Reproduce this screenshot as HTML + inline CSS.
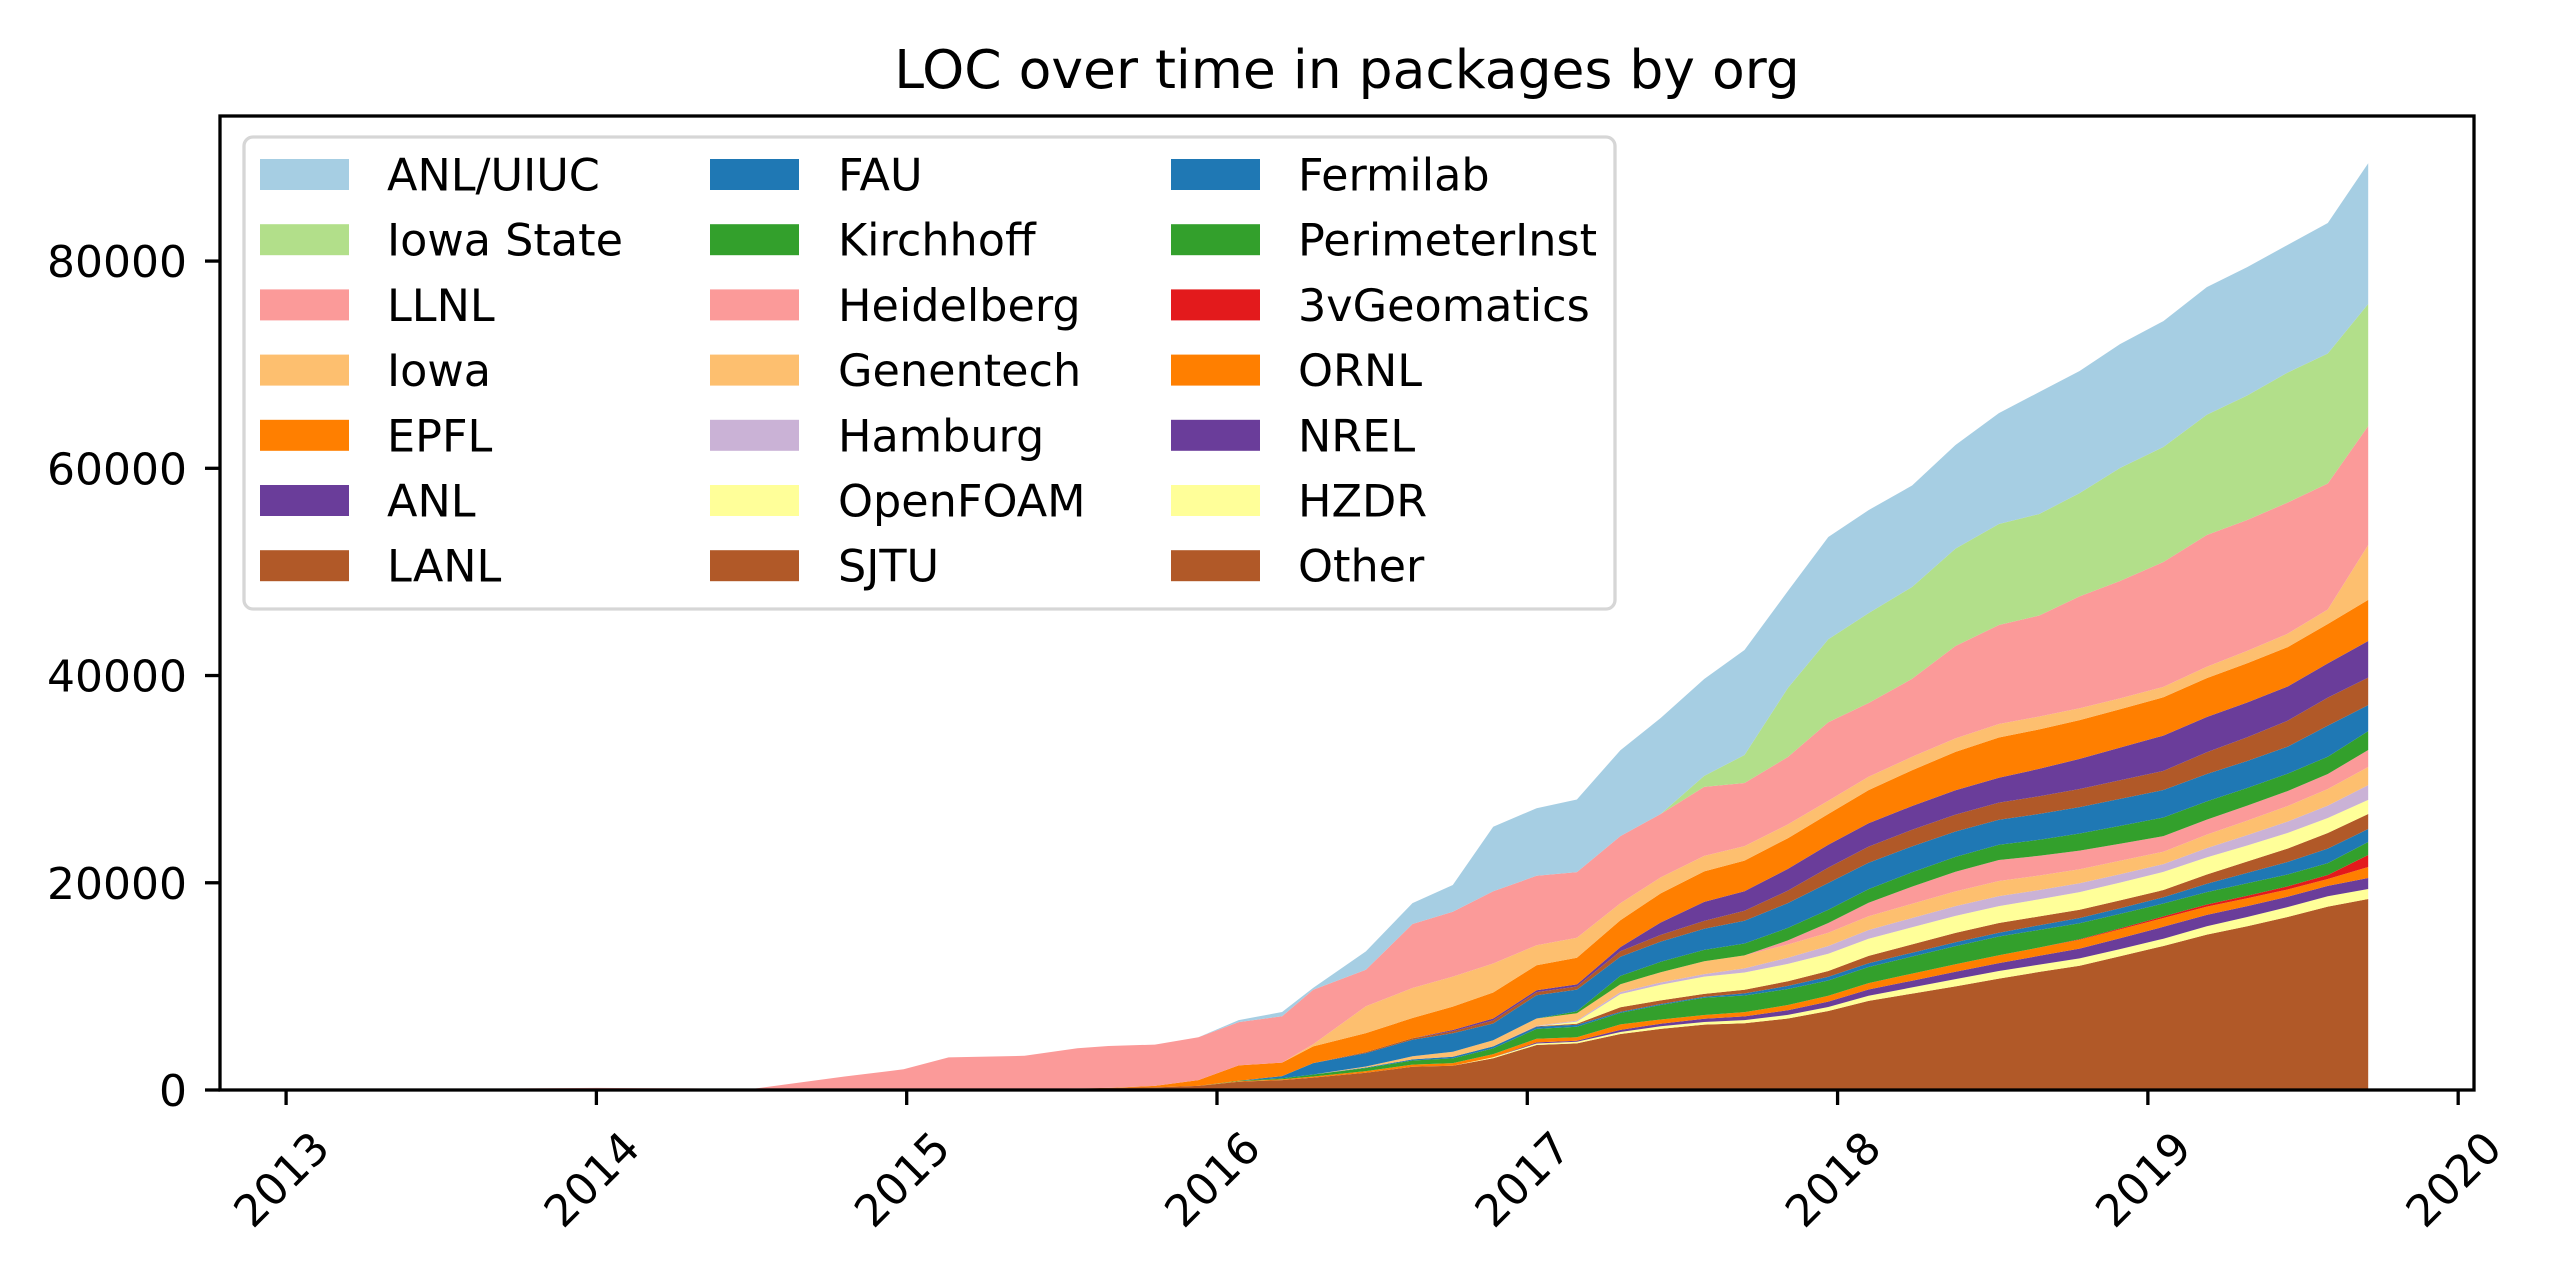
<!DOCTYPE html>
<html>
<head>
<meta charset="utf-8">
<style>
  html, body { margin: 0; padding: 0; background: #ffffff; }
  svg { display: block; font-family: "DejaVu Sans", "Liberation Sans", sans-serif; }
</style>
</head>
<body>
<svg id="chart" xmlns="http://www.w3.org/2000/svg" width="2560" height="1280" viewBox="0 0 2560 1280">
  <rect x="0" y="0" width="2560" height="1280" fill="#ffffff"/>
  <text x="1347" y="88" text-anchor="middle" font-size="53.5" fill="#000">LOC over time in packages by org</text>
  <g id="areas"></g>
  <g id="axes"></g>
  <g id="legend"></g>
</svg>
<script>
// ---- data ----
const times = [2013.0, 2014.0, 2014.3, 2014.5, 2014.65, 2014.8, 2014.99, 2015.135, 2015.38, 2015.55, 2015.65, 2015.8, 2015.94, 2016.07, 2016.21, 2016.31, 2016.48, 2016.63, 2016.76, 2016.89, 2017.03, 2017.16, 2017.30, 2017.43, 2017.57, 2017.70, 2017.84, 2017.97, 2018.10, 2018.24, 2018.38, 2018.52, 2018.65, 2018.78, 2018.91, 2019.05, 2019.19, 2019.32, 2019.45, 2019.58, 2019.71];

const other = [0,0,0,0,0,0,0,0,100,150,200,250,400,800,960,1200,1670,2250,2350,3060,4340,4500,5400,5900,6310,6450,6900,7620,8600,9300,10000,10750,11400,12000,12900,13900,15000,15800,16700,17700,18430];
const hzdr = [0,0,0,0,0,0,0,0,0,0,0,0,0,0,0,0,0,0,0,100,150,150,200,250,250,300,350,390,500,600,700,730,700,700,700,700,800,900,950,1000,970];
const nrel = [0,0,0,0,0,0,0,0,0,0,0,0,0,0,0,0,0,0,0,0,100,100,200,250,310,350,450,520,600,650,720,770,850,950,1050,1150,1100,1050,1000,1000,1060];
const ornl = [0,0,0,0,0,0,0,0,0,0,0,0,0,50,80,100,150,200,250,300,350,350,530,400,370,420,500,560,620,680,720,750,800,850,850,850,800,750,700,660,1060];
const geomatics3v = [0,0,0,0,0,0,0,0,0,0,0,0,0,0,0,0,0,0,0,0,0,0,0,0,0,0,0,0,0,0,0,0,0,50,100,150,200,250,300,390,1160];
const perimeter = [0,0,0,0,0,0,0,0,0,0,0,0,0,50,100,200,300,400,450,550,960,1000,1110,1400,1660,1600,1550,1480,1550,1650,1750,1810,1700,1550,1400,1250,1200,1200,1150,1150,1250];
const fermilab = [0,0,0,0,0,0,0,0,0,0,0,0,0,0,0,0,50,100,150,200,200,200,100,100,100,200,300,360,370,370,370,370,450,500,550,600,800,1000,1200,1400,1260];
const sjtu = [0,0,0,0,0,0,0,0,0,0,0,0,0,0,0,0,0,0,0,0,50,100,450,350,270,350,450,550,700,800,900,940,850,800,750,700,900,1100,1300,1500,1450];
const openfoam = [0,0,0,0,0,0,0,0,0,0,0,0,0,0,0,0,0,0,0,0,0,200,1270,1500,1670,1670,1670,1670,1650,1650,1640,1630,1650,1700,1720,1750,1650,1550,1500,1450,1360];
const hamburg = [0,0,0,0,0,0,0,0,0,0,0,0,0,0,0,0,0,0,0,0,50,100,190,220,250,400,600,750,850,900,950,960,900,850,800,750,900,1000,1100,1200,1430];
const genentech = [0,0,0,0,0,0,0,0,0,0,0,0,0,0,0,0,100,300,500,600,700,700,760,1000,1230,1250,1270,1280,1330,1380,1420,1460,1400,1350,1300,1200,1300,1400,1500,1600,1740];
const heidelberg = [0,0,0,0,0,0,0,0,0,0,0,0,0,0,0,0,0,0,0,0,0,0,0,0,0,0,400,940,1300,1650,1900,2030,1900,1800,1650,1500,1450,1450,1450,1450,1640];
const kirchhoff = [0,0,0,0,0,0,0,0,0,0,0,0,0,0,0,0,0,0,0,0,0,200,800,1000,1100,1150,1200,1280,1320,1380,1430,1470,1550,1650,1720,1800,1750,1700,1680,1670,1830];
const fau = [0,0,0,0,0,0,0,0,0,0,0,0,0,0,200,1100,1290,1600,1770,1610,2250,2090,1850,1950,2040,2200,2400,2580,2550,2500,2450,2410,2500,2550,2600,2650,2650,2600,2600,3000,2510];
const lanl = [0,0,0,0,0,0,0,0,0,0,0,0,0,0,0,0,100,150,200,300,300,300,540,650,760,950,1200,1480,1550,1600,1630,1660,1700,1750,1800,1850,2100,2300,2500,2700,2650];
const anl = [0,0,0,0,0,0,0,0,0,0,0,0,0,0,0,0,0,0,120,180,180,200,390,1200,1830,1900,2100,2210,2250,2300,2350,2400,2650,2900,3150,3400,3400,3350,3300,3300,3530];
const epfl = [0,0,0,0,0,0,0,0,0,0,0,150,560,1470,1300,1610,1830,1950,2260,2510,2410,2570,2600,2800,2950,2950,2960,2970,3200,3450,3700,3880,3800,3750,3700,3700,3750,3780,3800,3800,3970];
const iowa = [0,0,0,0,0,0,0,0,0,0,0,0,0,0,0,200,2590,2890,2890,2800,1930,1930,1640,1550,1490,1400,1330,1280,1290,1300,1300,1300,1250,1150,1050,1000,1100,1200,1300,1400,5300];
const llnl = [0,200,150,100,700,1300,2000,3150,3200,3870,4050,3980,4130,4180,4470,5270,3520,6180,6270,6970,6700,6340,6470,6120,6660,6090,6510,7580,7120,7520,8920,9560,9740,10790,11330,12060,12710,12630,12660,12160,11480];
const iowaState = [0,0,0,0,0,0,0,0,0,0,0,0,0,0,0,0,0,0,0,0,0,0,0,0,1060,2700,6660,8000,8680,8860,9400,9740,9800,9970,10910,11100,11610,12020,12550,12550,11780];
const anlUiuc = [0,0,0,0,0,0,0,0,0,0,0,0,0,200,420,170,1780,2020,2570,6220,6530,7010,8290,9260,9360,10130,9360,9870,9940,9800,10000,10710,11770,11780,11960,12150,12320,12390,12310,12590,13580];

// series names bottom -> top
const seriesNames = ["Other","HZDR","NREL","ORNL","3vGeomatics","PerimeterInst","Fermilab","SJTU","OpenFOAM","Hamburg","Genentech","Heidelberg","Kirchhoff","FAU","LANL","ANL","EPFL","Iowa","LLNL","Iowa State","ANL/UIUC"];
const seriesValues = [other,hzdr,nrel,ornl,geomatics3v,perimeter,fermilab,sjtu,openfoam,hamburg,genentech,heidelberg,kirchhoff,fau,lanl,anl,epfl,iowa,llnl,iowaState,anlUiuc];
const seriesColors = ["#b15928","#ffff99","#6a3d9a","#ff7f00","#e31a1c","#33a02c","#1f78b4","#b15928","#ffff99","#cab2d6","#fdbf6f","#fb9a99","#33a02c","#1f78b4","#b15928","#6a3d9a","#ff7f00","#fdbf6f","#fb9a99","#b2df8a","#a6cee3"];

const yTicks = [0, 20000, 40000, 60000, 80000];
const yTickLabels = ["0","20000","40000","60000","80000"];
const xTicks = [2013, 2014, 2015, 2016, 2017, 2018, 2019, 2020];
const xTickLabels = ["2013","2014","2015","2016","2017","2018","2019","2020"];

// ---- layout ----
const AX = {left: 220, right: 2474, top: 116, bottom: 1090};
const X_MIN = 2012.787, X_MAX = 2020.051;
const Y_MIN = 0, Y_MAX = 94000;
function xScale(t) { return AX.left + (t - X_MIN) / (X_MAX - X_MIN) * (AX.right - AX.left); }
function yScale(v) { return AX.bottom - (v - Y_MIN) / (Y_MAX - Y_MIN) * (AX.bottom - AX.top); }

const NS = "http://www.w3.org/2000/svg";
function mk(tag, attrs) {
  const e = document.createElementNS(NS, tag);
  for (const k in attrs) e.setAttribute(k, attrs[k]);
  return e;
}

// ---- stacked areas ----
const areas = document.getElementById('areas');
let base = times.map(() => 0);
seriesValues.forEach((vals, si) => {
  const top = base.map((b, i) => b + vals[i]);
  let d = '';
  times.forEach((t, i) => { d += (i === 0 ? 'M' : 'L') + xScale(t).toFixed(1) + ',' + yScale(top[i]).toFixed(1); });
  for (let i = times.length - 1; i >= 0; i--) { d += 'L' + xScale(times[i]).toFixed(1) + ',' + yScale(base[i]).toFixed(1); }
  d += 'Z';
  const p = mk('path', {d: d, fill: seriesColors[si], stroke: 'none'});
  
  
  areas.appendChild(p);
  base = top;
});

// ---- axes ----
const axes = document.getElementById('axes');
const frame = mk('rect', {x: AX.left, y: AX.top, width: AX.right - AX.left, height: AX.bottom - AX.top, fill: 'none', stroke: '#000', 'stroke-width': 3.3});


axes.appendChild(frame);

yTicks.forEach((v, i) => {
  const y = yScale(v);
  const tk = mk('line', {x1: AX.left - 15, x2: AX.left, y1: y, y2: y, stroke: '#000', 'stroke-width': 3.3});
  
  
  axes.appendChild(tk);
  const lb = mk('text', {x: 187, y: y + 16, 'text-anchor': 'end', 'font-size': 44, fill: '#000'});
  lb.textContent = yTickLabels[i];
  
  
  axes.appendChild(lb);
});

xTicks.forEach((t, i) => {
  const x = xScale(t);
  const tk = mk('line', {x1: x, x2: x, y1: AX.bottom, y2: AX.bottom + 15, stroke: '#000', 'stroke-width': 3.3});
  
  
  axes.appendChild(tk);
  const lb = mk('text', {transform: 'translate(' + (x - 5).toFixed(1) + ',1179) rotate(-45)', 'text-anchor': 'middle', 'font-size': 44, fill: '#000', dy: '0.36em'});
  lb.textContent = xTickLabels[i];
  
  
  axes.appendChild(lb);
});

// ---- legend ----
const legend = document.getElementById('legend');
const lbox = mk('rect', {x: 244, y: 137, width: 1371, height: 472, rx: 9, ry: 9, fill: '#ffffff', 'fill-opacity': 0.8, stroke: '#d6d6d6', 'stroke-width': 3.3});


legend.appendChild(lbox);
const colPatchX = [260, 710, 1171];
const colTextX = [387, 838, 1298];
const legendOrder = seriesNames.map((n, i) => i).reverse();
legendOrder.forEach((si, k) => {
  const col = Math.floor(k / 7), row = k % 7;
  const cy = 174.5 + row * 65.2;
  const g = mk('g', {});
  
  
  const r = mk('rect', {x: colPatchX[col], y: cy - 15.5, width: 89, height: 31, fill: seriesColors[si]});
  
  
  g.appendChild(r);
  const tx = mk('text', {x: colTextX[col], y: cy + 16, 'font-size': 44.5, fill: '#000'});
  tx.textContent = seriesNames[si];
  
  
  g.appendChild(tx);
  legend.appendChild(g);
});
</script>
</body>
</html>
